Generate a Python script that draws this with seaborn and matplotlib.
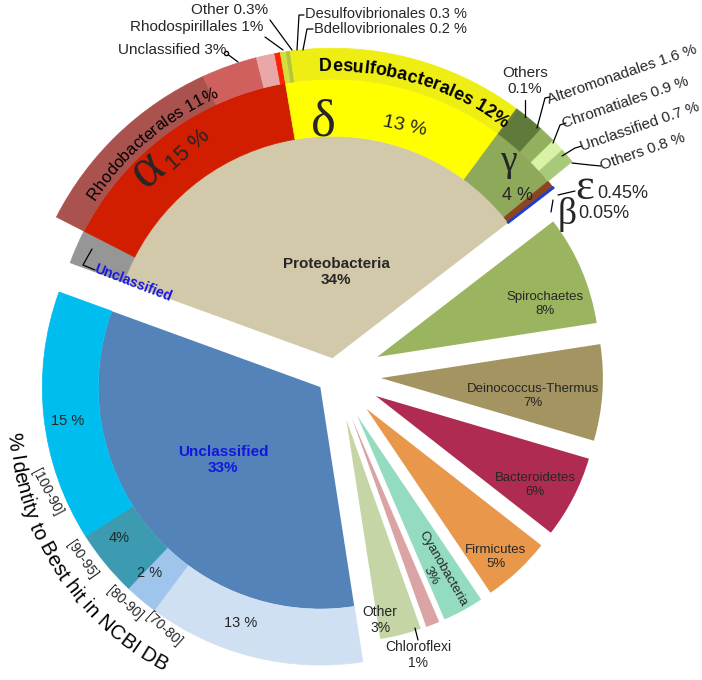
import numpy as np
import matplotlib
matplotlib.use("Agg")
import matplotlib.pyplot as plt
import seaborn as sns
from matplotlib.font_manager import FontProperties
from matplotlib.textpath import TextToPath

# phylum level, clockwise from the upper-left
phyla = ["Proteobacteria", "Spirochaetes", "Deinococcus-Thermus", "Bacteroidetes",
         "Firmicutes", "Cyanobacteria", "Chloroflexi", "Other", "Unclassified"]
phyla_pct = [34, 8, 7, 6, 5, 3, 1, 3, 33]
phyla_colors = ["#d1c9a9", "#9bb45f", "#a39462", "#b02b52", "#e8974b",
                "#93dcc0", "#dba4a4", "#c5d5a5", "#5383b9"]

# Proteobacteria classes
classes = ["Unclassified", "alpha", "delta", "gamma", "epsilon", "beta"]
class_pct = [2, 15, 13, 4, 0.45, 0.05]
class_colors = ["#969696", "#d21e00", "#ffff00", "#8fa95a", "#8b4520", "#1f3fd0"]

# orders inside alpha / delta / gamma
alpha_orders = ["Rhodobacterales", "Unclassified", "Rhodospirillales", "Other"]
alpha_pct = [11, 3, 1, 0.3]
alpha_colors = ["#a9524e", "#cf605d", "#e9a7a7", "#ff2200"]
delta_orders = ["Desulfovibrionales", "Bdellovibrionales", "Desulfobacterales"]
delta_pct = [0.3, 0.2, 12]
delta_colors = ["#d2df3c", "#b3c63a", "#eeee14"]
gamma_orders = ["Others", "Alteromonadales", "Chromatiales", "Unclassified", "Others"]
gamma_pct = [0.1, 1.6, 0.9, 0.7, 0.8]
gamma_colors = ["#6b7f45", "#5f7a3a", "#93b05e", "#d9f2a8", "#a9c97a"]

# unclassified reads: % identity to best hit
identity_bins = ["[70-80]", "[80-90]", "[90-95]", "[100-90]"]
identity_pct = [13, 2, 4, 15]
identity_labels = ["13 %", "2 %", "4%", "15 %"]
identity_colors = ["#cfe0f3", "#9fc5ec", "#3c9bb1", "#00bdf0"]

sns.set_theme(style="white")
plt.rcParams["font.family"] = ["Liberation Sans", "DejaVu Sans"]

W, H = 702, 680
fig = plt.figure(figsize=(W / 100, H / 100), dpi=100)
fig.patch.set_facecolor("white")
ax = fig.add_axes([0, 0, 1, 1])


def P(x, y):
    # picture pixel -> data coords
    return x, H - y


def seal(ws):
    # edge in the face colour so neighbouring wedges leave no seam
    for w in ws:
        w.set_edgecolor(w.get_facecolor())
        w.set_linewidth(0.5)


START = 160
R_CORE, R_MID, R_OUT, R_ID = 222, 279, 310, 278

# main pie
explode = [17 if p == "Proteobacteria" else 19 if p == "Unclassified" else 46 for p in phyla]
wedges, _ = ax.pie(phyla_pct, colors=phyla_colors, radius=R_CORE, center=P(335, 375),
                   startangle=START, counterclock=False, explode=explode,
                   wedgeprops=dict(linewidth=0))
proteo_c = wedges[0].center
unc_c = wedges[-1].center

# class ring
share = phyla_pct[0]
tot = sum(class_pct)
ring1 = [v * share / tot for v in class_pct] + [100 - share]
w1, _ = ax.pie(ring1, colors=class_colors + ["none"], radius=R_MID, center=proteo_c,
               startangle=START, counterclock=False,
               wedgeprops=dict(width=R_MID - R_CORE))
seal(w1)
w1[classes.index("beta")].set_linewidth(1.5)

# order ring
groups = {"alpha": (alpha_pct, alpha_colors), "delta": (delta_pct, delta_colors),
          "gamma": (gamma_pct, gamma_colors)}
ring2, cols2 = [], []
for cl, v in zip(classes, class_pct):
    if cl in groups:
        vals, cols = groups[cl]
        ring2 += [x * v / sum(vals) for x in vals]
        cols2 += cols
    else:
        ring2.append(v)
        cols2.append("none")
ring2 = [x * share / tot for x in ring2] + [100 - share]
w2, _ = ax.pie(ring2, colors=cols2 + ["none"], radius=R_OUT, center=proteo_c,
               startangle=START, counterclock=False, wedgeprops=dict(width=R_OUT - R_MID))
seal(w2)

# identity ring around the unclassified slice
ushare = phyla_pct[-1]
ring3 = [v * ushare / sum(identity_pct) for v in identity_pct] + [100 - ushare]
w3, _ = ax.pie(ring3, colors=identity_colors + ["none"], radius=R_ID, center=unc_c,
               startangle=START - 360 * (100 - ushare) / 100, counterclock=False,
               wedgeprops=dict(width=R_ID - R_CORE))
seal(w3)

ax.set_xlim(0, W)
ax.set_ylim(0, H)
ax.set_aspect("equal")
ax.axis("off")

# ---- text ----
t2p = TextToPath()


def adv(ch, prop):
    a1 = t2p.get_text_width_height_descent("x" + ch + "x", prop, ismath=False)[0]
    a0 = t2p.get_text_width_height_descent("xx", prop, ismath=False)[0]
    return (a1 - a0) * 100 / 72


def arc_text(s, c, r, mid, clockwise=True, size=12, weight="normal", color="black"):
    prop = FontProperties(family="Liberation Sans", weight=weight, size=size)
    a = [adv(ch, prop) for ch in s]
    sign = -1 if clockwise else 1
    th0 = np.radians(mid) - sign * sum(a) / 2 / r
    pos = 0
    for ch, w in zip(s, a):
        th = th0 + sign * (pos + w / 2) / r
        rot = np.degrees(th) - 90 if clockwise else np.degrees(th) + 90
        ax.text(c[0] + r * np.cos(th), c[1] + r * np.sin(th), ch, rotation=rot,
                rotation_mode="anchor", ha="center", va="baseline",
                fontproperties=prop, color=color)
        pos += w


def txt(s, xy, size=11, rot=0, **kw):
    kw.setdefault("ha", "center")
    ax.text(*P(*xy), s, fontsize=size, rotation=rot, rotation_mode="anchor",
            va="center", linespacing=1.15, **kw)


def line(pts):
    xs, ys = zip(*[P(*p) for p in pts])
    ax.plot(xs, ys, color="black", lw=0.9)


# core labels
txt(f"{phyla[0]}\n{phyla_pct[0]}%", (336, 272), 11, weight="bold")
txt(f"{phyla[-1]}\n{phyla_pct[-1]}%", (223, 460), 11, weight="bold", color="#1515e0")

# small slices
slice_pos = {"Spirochaetes": ((545, 304), 0, 9.5), "Deinococcus-Thermus": ((533, 396), 0, 9.5),
             "Bacteroidetes": ((535, 485), 0, 9.5), "Firmicutes": ((496, 557), 0, 9.5),
             "Cyanobacteria": ((437, 572), -60, 9.5), "Other": ((380, 620), 0, 10),
             "Chloroflexi": ((418, 655), 0, 10)}
for p, v in zip(phyla, phyla_pct):
    if p in slice_pos:
        xy, r, s = slice_pos[p]
        txt(f"{p}\n{v}%", xy, s, rot=r)
line([(415, 628), (418, 640)])

# identity ring
for lab, xy in zip(identity_labels, [(241, 623), (150, 573), (119, 538), (68, 421)]):
    txt(lab, xy, 10.5)
for b, xy, r in zip(identity_bins, [(164, 629), (125, 603), (82, 560), (47, 492)],
                    [-42, -42, -55, -62]):
    txt(b, xy, 10, rot=r)
arc_text("% Identity to Best hit in NCBI DB", P(298, 414), 291, 213,
         clockwise=False, size=14.8)

# greek letters
serif = ["Liberation Serif", "DejaVu Serif"]
txt("α", (148, 170), 40, rot=40, family=serif)
txt("15 %", (188, 150), 16, rot=42)
txt("δ", (323, 122), 38, family=serif)
txt("13 %", (405, 126), 14, rot=-12)
txt("γ", (508, 162), 27, family=serif)
txt("4 %", (517, 195), 13)
txt("ε", (585, 188), 32, family=serif)
txt("0.45%", (623, 193), 13)
txt("β", (567, 214), 27, family=serif)
txt("0.05%", (604, 214), 13)
line([(558, 195), (575, 191)])
line([(553, 200), (551, 212)])

# order ring labels
arc_text("Desulfobacterales 12%", proteo_c, 287, 73, size=13, weight="bold")
arc_text("Rhodobacterales 11%", proteo_c, 285, 130, size=12)

txt("Other 0.3%", (230, 10), 11)
txt("Rhodospirillales 1%", (197, 27), 11)
txt("Unclassified 3%", (172, 50), 11)
txt("Desulfovibrionales 0.3 %", (305, 14), 10.5, ha="left")
txt("Bdellovibrionales 0.2 %", (314, 29), 10.5, ha="left")
line([(270, 20), (292, 50)])
line([(265, 37), (283, 50)])
line([(226, 53), (238, 62)])
ax.plot(*P(226, 53), "o", mfc="white", mec="black", ms=3)
line([(304, 15), (299, 15), (297, 50)])
line([(313, 29), (307, 29), (303, 50)])

txt("Others\n0.1%", (525, 81), 11)
txt("Alteromonadales 1.6 %", (622, 75), 11, rot=19)
txt("Chromatiales 0.9 %", (625, 103), 11, rot=19)
txt("Unclassified 0.7 %", (640, 127), 11, rot=19)
txt("Others 0.8 %", (643, 152), 11, rot=19)
line([(525, 100), (525, 117)])
line([(550, 97), (545, 98), (537, 128)])
line([(566, 123), (560, 125), (553, 143)])
line([(582, 146), (575, 148), (562, 156)])
line([(601, 166), (590, 165), (572, 163)])

# gray unclassified class
txt("Unclassified", (133, 283), 10, rot=-21, weight="bold", color="#1515e0")
line([(92, 249), (83, 265), (95, 270)])

fig.savefig("out.png", dpi=100)
plt.close(fig)
